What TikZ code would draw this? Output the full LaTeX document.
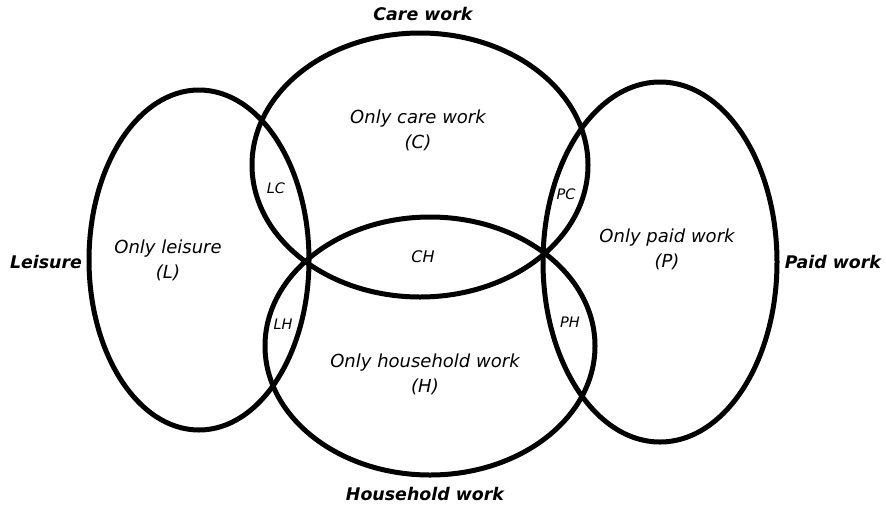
\documentclass[tikz,border=0pt]{standalone}
\usepackage{fontspec}
\setmainfont{DejaVu Sans}
\usetikzlibrary{shapes.geometric}
\tikzset{
  setshape/.style={draw=black, line width=5pt, ellipse, inner sep=0pt, fill=none},
  biglabel/.style={font=\fontsize{17.4}{20}\selectfont\bfseries\itshape, inner sep=0pt},
  inlabel/.style={font=\fontsize{18}{25}\selectfont\itshape, align=center, inner sep=0pt},
  smalllabel/.style={font=\fontsize{14.5}{16}\selectfont\itshape, inner sep=0pt},
}
\begin{document}
\begin{tikzpicture}[x=1pt, y=-1pt]
\useasboundingbox (0,0) rectangle (886,507);
\node[setshape, minimum width=220pt, minimum height=340pt] (Lset) at (199,260) {};
\node[setshape, minimum width=336pt, minimum height=264pt] (Cset) at (420,165) {};
\node[setshape, minimum width=330pt, minimum height=258pt] (Hset) at (430,346) {};
\node[setshape, minimum width=234pt, minimum height=360pt] (Pset) at (660,262) {};

\node[biglabel] (careT) at (423,14) {Care work};
\node[biglabel] (houseT) at (425,494) {Household work};
\node[biglabel] (leisT) at (46,262) {Leisure};
\node[biglabel] (paidT) at (833,262) {Paid work};

\node[inlabel] (onlyC) at (418,130) {Only care work\\(C)};
\node[inlabel] (onlyL) at (168,260) {Only leisure\\(L)};
\node[inlabel] (onlyP) at (667,249) {Only paid work\\(P)};
\node[inlabel] (onlyH) at (425,374) {Only household work\\(H)};

\node[smalllabel] (LC) at (276,188) {LC};
\node[smalllabel] (PC) at (566,194) {PC};
\node[smalllabel, font=\fontsize{16}{18}\selectfont\itshape] (CH) at (423,257) {CH};
\node[smalllabel] (LH) at (283,324) {LH};
\node[smalllabel] (PH) at (570,322) {PH};
\end{tikzpicture}
\end{document}
